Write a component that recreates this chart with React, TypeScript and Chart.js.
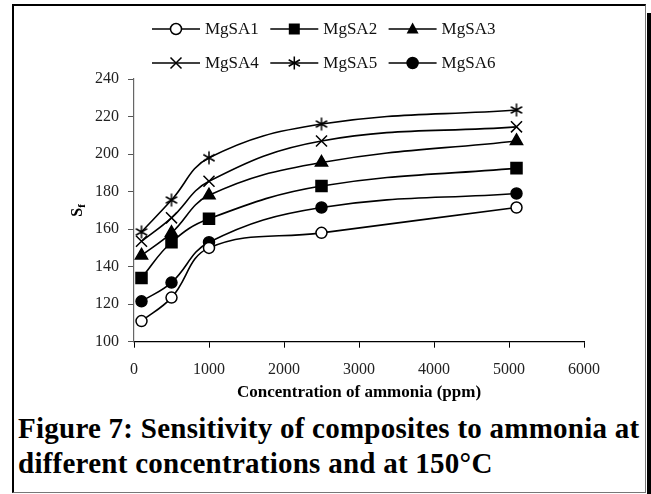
import React, { useEffect, useRef } from 'react';
import { Chart, registerables } from 'chart.js';

Chart.register(...registerables);

const concentrations = [100, 500, 1000, 2500, 5100];
const mgsa1 = [111, 123.5, 150, 158, 171.5];
const mgsa2 = [134, 153, 165.5, 183, 192.5];
const mgsa3 = [146, 158, 178, 195.5, 207];
const mgsa4 = [153.5, 166, 185.5, 207, 214.5];
const mgsa5 = [158.5, 175.5, 198, 216, 223.5];
const mgsa6 = [121.5, 131.5, 153, 171.5, 179];
const seriesLabels = ['MgSA1', 'MgSA2', 'MgSA3', 'MgSA4', 'MgSA5', 'MgSA6'];
const xTickValues = [0, 1000, 2000, 3000, 4000, 5000, 6000];
const yTickValues = [100, 120, 140, 160, 180, 200, 220, 240];
const xTitle = 'Concentration of ammonia (ppm)';
const captionLines = [
  'Figure 7: Sensitivity of composites to ammonia at',
  'different concentrations and at 150\u00B0C',
];

const SERIF = '"Liberation Serif", "Times New Roman", serif';

type Kind = 'openCircle' | 'square' | 'triangle' | 'x' | 'asterisk' | 'filledCircle';
const kinds: Kind[] = ['openCircle', 'square', 'triangle', 'x', 'asterisk', 'filledCircle'];

function drawMarker(ctx: CanvasRenderingContext2D, kind: Kind, x: number, y: number) {
  ctx.save();
  ctx.strokeStyle = '#000';
  ctx.fillStyle = '#000';
  ctx.lineWidth = 1.5;
  ctx.beginPath();
  if (kind === 'openCircle' || kind === 'filledCircle') {
    ctx.arc(x, y, 5.5, 0, Math.PI * 2);
    ctx.fillStyle = kind === 'openCircle' ? '#fff' : '#000';
    ctx.fill();
    ctx.stroke();
  } else if (kind === 'square') {
    ctx.rect(x - 5.5, y - 5.5, 11, 11);
    ctx.fill();
  } else if (kind === 'triangle') {
    ctx.moveTo(x, y - 6.5);
    ctx.lineTo(x + 6, y + 4.5);
    ctx.lineTo(x - 6, y + 4.5);
    ctx.closePath();
    ctx.fill();
  } else if (kind === 'x') {
    ctx.moveTo(x - 5.5, y - 5.5);
    ctx.lineTo(x + 5.5, y + 5.5);
    ctx.moveTo(x + 5.5, y - 5.5);
    ctx.lineTo(x - 5.5, y + 5.5);
    ctx.stroke();
  } else if (kind === 'asterisk') {
    const r = 6.5;
    for (const a of [90, 30, 150]) {
      const rad = (a * Math.PI) / 180;
      ctx.moveTo(x - Math.cos(rad) * r, y - Math.sin(rad) * r);
      ctx.lineTo(x + Math.cos(rad) * r, y + Math.sin(rad) * r);
    }
    ctx.stroke();
  }
  ctx.restore();
}

function asteriskImage(): HTMLCanvasElement {
  const c = document.createElement('canvas');
  c.width = 16;
  c.height = 16;
  const ctx = c.getContext('2d')!;
  drawMarker(ctx, 'asterisk', 8, 8);
  return c;
}

const legendPlugin = {
  id: 'lineMarkerLegend',
  afterDraw(chart: any) {
    const ctx: CanvasRenderingContext2D = chart.ctx;
    ctx.save();
    ctx.textBaseline = 'middle';
    const rowY = [29, 63];
    seriesLabels.forEach((label, i) => {
      const row = Math.floor(i / 3);
      const col = i % 3;
      const x0 = 152 + col * 118.3;
      const y = rowY[row];
      ctx.strokeStyle = '#000';
      ctx.lineWidth = 1.5;
      ctx.beginPath();
      ctx.moveTo(x0, y);
      ctx.lineTo(x0 + 48, y);
      ctx.stroke();
      drawMarker(ctx, kinds[i], x0 + 24, y);
      ctx.font = `17px ${SERIF}`;
      ctx.fillStyle = '#111';
      ctx.fillText(label, x0 + 53, y + 1);
    });
    ctx.restore();
  },
};

const yTitlePlugin = {
  id: 'yTitleSub',
  afterDraw(chart: any) {
    const ctx: CanvasRenderingContext2D = chart.ctx;
    const { top, bottom } = chart.chartArea;
    ctx.save();
    ctx.translate(77, (top + bottom) / 2);
    ctx.rotate(-Math.PI / 2);
    ctx.fillStyle = '#000';
    ctx.textBaseline = 'alphabetic';
    ctx.font = `bold 16px ${SERIF}`;
    const ws = ctx.measureText('S').width;
    ctx.font = `bold 11px ${SERIF}`;
    const wf = ctx.measureText('f').width;
    const start = -(ws + wf) / 2;
    ctx.font = `bold 16px ${SERIF}`;
    ctx.fillText('S', start, 5);
    ctx.font = `bold 11px ${SERIF}`;
    ctx.fillText('f', start + ws, 8);
    ctx.restore();
  },
};

export default function App() {
  const ref = useRef<HTMLCanvasElement | null>(null);

  useEffect(() => {
    if (!ref.current) return;
    const star = asteriskImage();
    const seriesValues = [mgsa1, mgsa2, mgsa3, mgsa4, mgsa5, mgsa6];
    const styles: any[] = [
      { pointStyle: 'circle', pointRadius: 5.5, pointBackgroundColor: '#fff' },
      { pointStyle: 'rect', pointRadius: 7.8, pointBackgroundColor: '#000' },
      { pointStyle: 'triangle', pointRadius: 7, pointBackgroundColor: '#000' },
      { pointStyle: 'crossRot', pointRadius: 7.8, pointBackgroundColor: '#000' },
      { pointStyle: star, pointRadius: 7, pointBackgroundColor: '#000' },
      { pointStyle: 'circle', pointRadius: 5.5, pointBackgroundColor: '#000' },
    ];
    const datasets = seriesLabels.map((label, i) => ({
      label,
      data: concentrations.map((c, j) => ({ x: c, y: seriesValues[i][j] })),
      borderColor: '#000',
      borderWidth: 1.6,
      pointBorderColor: '#000',
      pointBorderWidth: 1.5,
      tension: 0.4,
      fill: false,
      ...styles[i],
    }));

    const tickFont = { family: SERIF, size: 16 };
    const chart = new Chart(ref.current, {
      type: 'line',
      data: { datasets },
      plugins: [legendPlugin, yTitlePlugin],
      options: {
        animation: false,
        responsive: false,
        devicePixelRatio: 1,
        layout: { padding: { left: 0, right: 67, top: 79, bottom: 0 } },
        plugins: { legend: { display: false }, tooltip: { enabled: false } },
        scales: {
          x: {
            type: 'linear',
            min: 0,
            max: 6000,
            afterBuildTicks: (s: any) => {
              s.ticks = xTickValues.map((v) => ({ value: v }));
            },
            afterFit: (s: any) => {
              s.height = 68.3;
            },
            ticks: {
              font: tickFont,
              color: '#222',
              padding: 12,
              maxRotation: 0,
              autoSkip: false,
              callback: (v: any) => String(v),
            },
            grid: { drawOnChartArea: false, drawTicks: true, tickLength: 6, color: '#000' },
            border: { color: '#000', width: 1.2 },
            title: {
              display: true,
              text: xTitle,
              font: { family: SERIF, size: 17, weight: 'bold' },
              color: '#000',
              padding: { top: 0, bottom: 7 },
            },
          },
          y: {
            type: 'linear',
            min: 100,
            max: 240,
            afterBuildTicks: (s: any) => {
              s.ticks = yTickValues.map((v) => ({ value: v }));
            },
            afterFit: (s: any) => {
              s.width = 134;
            },
            ticks: { font: tickFont, color: '#222', padding: 9, callback: (v: any) => String(v) },
            grid: { drawOnChartArea: false, drawTicks: true, tickLength: 6, color: '#555' },
            border: { color: '#666', width: 1.2 },
          },
        },
      } as any,
    });
    return () => chart.destroy();
  }, []);

  return (
    <div style={{ position: 'absolute', left: 0, top: 0, width: 651, height: 494, background: '#fff' }}>
      <div
        style={{
          position: 'absolute',
          left: 12,
          top: 4,
          width: 634,
          height: 489,
          boxSizing: 'border-box',
          borderLeft: '2px solid #000',
          borderTop: '2px solid #000',
          borderRight: '1px solid #777',
          borderBottom: '1px solid #777',
        }}
      />
      <div style={{ position: 'absolute', left: 647, top: 13, width: 4, height: 481, background: '#000' }} />
      <canvas
        ref={ref}
        width={651}
        height={410}
        style={{ position: 'absolute', left: 0, top: 0, width: 651, height: 410 }}
      />
      <div
        style={{
          position: 'absolute',
          left: 18,
          top: 411,
          fontFamily: SERIF,
          fontWeight: 'bold',
          fontSize: 29,
          letterSpacing: '0.25px',
          lineHeight: '35px',
          color: '#000',
          whiteSpace: 'nowrap',
        }}
      >
        <div>{captionLines[0]}</div>
        <div>{captionLines[1]}</div>
      </div>
    </div>
  );
}
